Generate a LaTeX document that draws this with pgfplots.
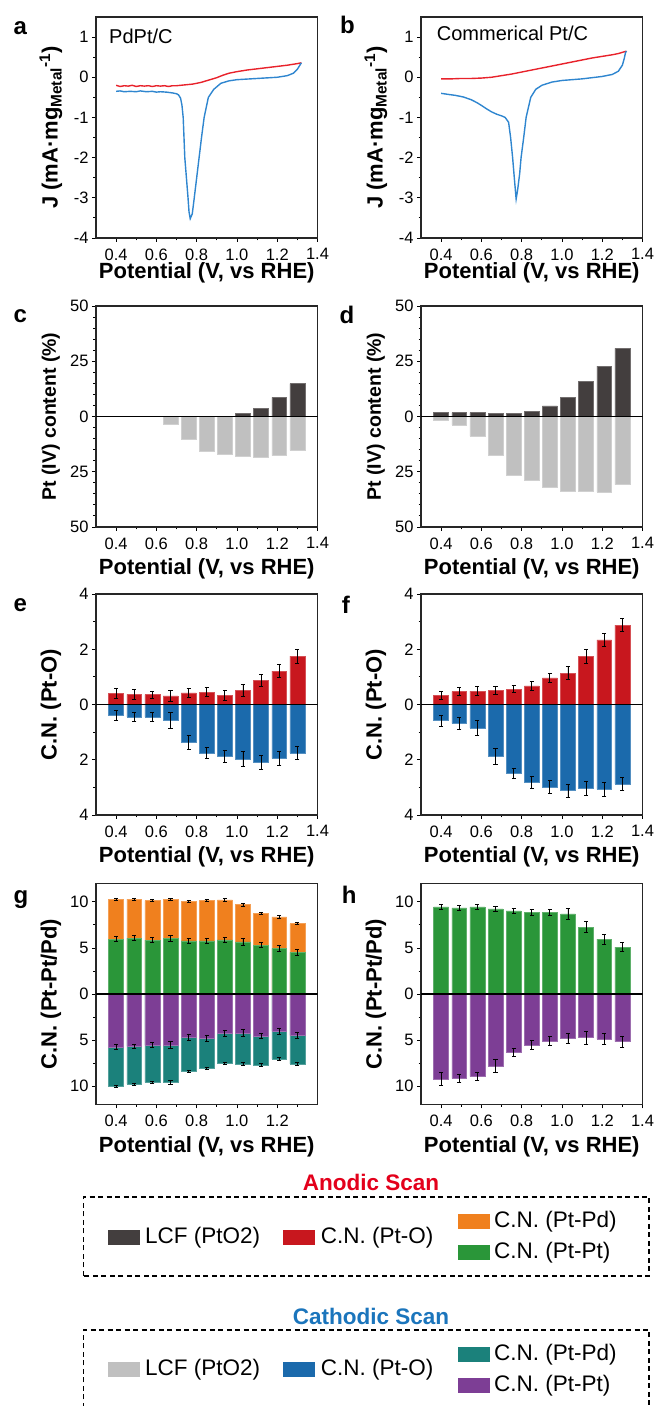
\documentclass[border=0pt]{standalone}
\usepackage{fontspec}
\setmainfont{Liberation Sans}
\usepackage{pgfplots}
\usepackage{pgfplotstable}
\pgfplotsset{compat=1.18}

\definecolor{curvered}{HTML}{E8222B}
\definecolor{curveblue}{HTML}{2F86CF}
\definecolor{anored}{HTML}{C8171E}
\definecolor{catblue}{HTML}{1B6AAC}
\definecolor{lcfdark}{HTML}{433E3E}
\definecolor{lcflight}{HTML}{C0C0C0}
\definecolor{ptpdorange}{HTML}{F0801E}
\definecolor{ptptgreen}{HTML}{2A9639}
\definecolor{ptpdteal}{HTML}{1B817B}
\definecolor{ptptpurple}{HTML}{7D3E95}
\definecolor{titlered}{HTML}{E3001B}
\definecolor{titleblue}{HTML}{1B75BC}

% bar data: x, anodic value, error, cathodic value (negative), error
\pgfplotstableread{
x    r     re    b      be
0.40 0.39  0.18  -0.39  0.17
0.49 0.37  0.18  -0.45  0.16
0.58 0.36  0.13  -0.46  0.17
0.67 0.31  0.19  -0.58  0.30
0.76 0.42  0.17  -1.37  0.24
0.85 0.45  0.16  -1.75  0.21
0.94 0.34  0.18  -1.87  0.21
1.03 0.52  0.22  -1.98  0.27
1.12 0.87  0.23  -2.10  0.25
1.21 1.21  0.23  -1.95  0.24
1.30 1.75  0.25  -1.76  0.23
}\ptoPdPt
\pgfplotstableread{
x    r     re    b      be
0.40 0.32  0.15  -0.58  0.20
0.49 0.47  0.16  -0.68  0.22
0.58 0.48  0.16  -0.85  0.26
0.67 0.52  0.14  -1.87  0.29
0.76 0.56  0.12  -2.48  0.18
0.85 0.67  0.16  -2.81  0.22
0.94 0.96  0.17  -2.98  0.23
1.03 1.14  0.25  -3.12  0.24
1.12 1.75  0.25  -3.04  0.27
1.21 2.34  0.24  -3.07  0.25
1.30 2.87  0.24  -2.87  0.24
}\ptoPt
% panel g: anodic total (Pt-Pd on top of Pt-Pt), anodic Pt-Pt, cathodic total, cathodic Pt-Pt
\pgfplotstableread{
x    tot    tote  pt    pte   ctot    ctote  cpt    cpte
0.40 10.25  0.13  5.96  0.27  -10.04  0.12   -5.74  0.25
0.49 10.29  0.13  6.06  0.27  -9.78   0.12   -5.67  0.22
0.58 10.14  0.13  5.85  0.25  -9.60   0.12   -5.56  0.25
0.67 10.25  0.13  6.03  0.30  -9.60   0.20   -5.52  0.40
0.76 10.04  0.13  5.78  0.27  -8.41   0.12   -4.69  0.35
0.85 10.14  0.13  5.78  0.27  -8.09   0.12   -4.84  0.30
0.94 10.22  0.13  5.88  0.27  -7.51   0.12   -4.26  0.35
1.03 9.71   0.15  5.67  0.35  -7.58   0.15   -4.26  0.40
1.12 8.74   0.15  5.31  0.30  -7.69   0.15   -4.55  0.30
1.21 8.38   0.15  4.95  0.30  -7.08   0.15   -4.04  0.35
1.30 7.65   0.13  4.51  0.30  -7.58   0.15   -4.48  0.30
}\ptptPdPt
\pgfplotstableread{
x    pt    pte   cpt    cpte
0.40 9.45  0.30  -9.27  0.70
0.49 9.35  0.30  -9.16  0.40
0.58 9.45  0.30  -8.95  0.40
0.67 9.24  0.28  -7.82  0.70
0.76 9.02  0.27  -6.36  0.45
0.85 8.87  0.30  -5.56  0.50
0.94 8.84  0.30  -5.09  0.50
1.03 8.69  0.60  -4.80  0.55
1.12 7.24  0.60  -4.73  0.70
1.21 5.96  0.55  -4.91  0.60
1.30 5.09  0.50  -5.16  0.60
}\ptptPt

\pgfplotsset{
  panel/.style={
    scale only axis, width=221.5pt, height=221pt,
    xmin=0.3, xmax=1.4,
    xtick={0.4,0.6,0.8,1.0,1.2,1.4}, xticklabels={0.4,0.6,0.8,1.0,1.2,1.4},
    minor x tick num=1, minor y tick num=1,
    tick align=outside, xtick pos=left, ytick pos=left,
    axis line style={line width=1.1pt, black!85},
    tick style={black, line width=0.9pt},
    major tick length=4pt, minor tick length=2.5pt,
    tick label style={font=\fontsize{16.5}{18}\selectfont},
    xticklabel style={yshift=-3pt},
    label style={font=\bfseries\fontsize{22}{24}\selectfont},
    xlabel={Potential (V, vs RHE)},
    xlabel style={at={(axis description cs:0.5,-0.19)}, anchor=center},
    ylabel style={at={(axis description cs:-0.204,0.5)}, anchor=center},
  },
  cvpanel/.style={panel, ymin=-4, ymax=1.5, ytick={-4,-3,-2,-1,0,1},
    yticklabels={-4,-3,-2,-1,0,1},
    ylabel={J (mA·mg\textsubscript{Metal}\textsuperscript{-1})},
    xlabel style={at={(axis description cs:0.5,-0.158)}}},
  lcfpanel/.style={panel, ybar, bar width=0.074, ymin=-50, ymax=50,
    ytick={-50,-25,0,25,50}, yticklabels={50,25,0,25,50}, minor y tick num=4,
    ylabel={Pt (IV) content (\%)},
    ylabel style={font=\bfseries\fontsize{19.5}{22}\selectfont}},
  ptopanel/.style={panel, ybar, bar width=0.074, ymin=-4, ymax=4,
    ytick={-4,-2,0,2,4}, yticklabels={4,2,0,2,4},
    ylabel={C.N. (Pt-O)}},
  ptptpanel/.style={panel, ybar, bar width=0.074, ymin=-12, ymax=12,
    ytick={-10,-5,0,5,10}, yticklabels={10,5,0,5,10},
    ylabel={C.N. (Pt-Pt/Pd)}},
  bar/.style={fill=#1, draw=#1!75!white, line width=0.5pt, bar shift=0pt},
  ebar/.style={bar=#1, error bars/.cd, y dir=both, y explicit,
    error mark=|,
    error bar style={black, line width=0.9pt},
    error mark options={black, line width=0.9pt, mark size=2.1pt}},
}

\newcommand{\zeroline}{\draw[black, line width=1.4pt] (rel axis cs:0,0.5) -- (rel axis cs:1,0.5);}

\begin{document}
\begin{tikzpicture}[x=1pt,y=1pt]
\useasboundingbox (0,0) rectangle (659,1406);

% ---------- a ----------
\begin{axis}[cvpanel, at={(96pt,1168pt)}, anchor=south west]
\addplot[curvered, line width=1.4pt] coordinates {
 (0.40,-0.20) (0.42,-0.23) (0.44,-0.21) (0.46,-0.22) (0.48,-0.20) (0.50,-0.23)
 (0.52,-0.21) (0.54,-0.22) (0.56,-0.21) (0.58,-0.23) (0.60,-0.21) (0.62,-0.22)
 (0.64,-0.21) (0.66,-0.23) (0.68,-0.21) (0.70,-0.21) (0.72,-0.20) (0.74,-0.19)
 (0.76,-0.18) (0.78,-0.17) (0.80,-0.15) (0.82,-0.13) (0.84,-0.10) (0.86,-0.07)
 (0.88,-0.04) (0.90,-0.01) (0.93,0.05) (0.96,0.10) (1.00,0.14) (1.05,0.18)
 (1.10,0.21) (1.15,0.24) (1.20,0.27) (1.25,0.30) (1.30,0.34) (1.32,0.36)};
\addplot[curveblue, line width=1.4pt] coordinates {
 (1.32,0.36) (1.31,0.28) (1.30,0.20) (1.28,0.10) (1.25,0.04) (1.20,0.00)
 (1.10,-0.03) (1.00,-0.06) (0.96,-0.09) (0.92,-0.15) (0.885,-0.30) (0.858,-0.50)
 (0.837,-1.00) (0.824,-1.50) (0.812,-2.00) (0.800,-2.50) (0.788,-3.00) (0.778,-3.40)
 (0.768,-3.52) (0.762,-3.35) (0.757,-3.00) (0.749,-2.50) (0.741,-2.00) (0.737,-1.50)
 (0.733,-1.00) (0.727,-0.70) (0.720,-0.52) (0.710,-0.44) (0.70,-0.41) (0.68,-0.39)
 (0.65,-0.37) (0.62,-0.36) (0.60,-0.37) (0.58,-0.35) (0.55,-0.36) (0.52,-0.34)
 (0.50,-0.36) (0.47,-0.35) (0.44,-0.36) (0.42,-0.34) (0.40,-0.35)};
\end{axis}
\node[anchor=base west, font=\fontsize{20}{22}\selectfont, inner sep=0] at (109,1362.7) {PdPt/C};

% ---------- b ----------
\begin{axis}[cvpanel, at={(421pt,1168pt)}, anchor=south west]
\addplot[curvered, line width=1.4pt] coordinates {
 (0.40,-0.04) (0.45,-0.04) (0.50,-0.03) (0.55,-0.03) (0.60,-0.02) (0.65,0.00)
 (0.70,0.04) (0.75,0.08) (0.80,0.13) (0.85,0.18) (0.90,0.23) (0.95,0.28)
 (1.00,0.33) (1.05,0.38) (1.10,0.43) (1.15,0.48) (1.20,0.52) (1.25,0.56)
 (1.28,0.59) (1.32,0.65)};
\addplot[curveblue, line width=1.4pt] coordinates {
 (1.32,0.65) (1.315,0.60) (1.31,0.48) (1.30,0.30) (1.28,0.15) (1.25,0.07)
 (1.20,0.02) (1.10,-0.04) (1.00,-0.08) (0.95,-0.12) (0.90,-0.20) (0.87,-0.30)
 (0.845,-0.50) (0.822,-1.00) (0.810,-1.50) (0.797,-2.00) (0.790,-2.40) (0.780,-2.80)
 (0.7725,-3.03) (0.765,-2.60) (0.755,-2.00) (0.745,-1.50) (0.735,-1.12) (0.718,-1.00)
 (0.70,-0.96) (0.676,-0.92) (0.65,-0.86) (0.627,-0.79) (0.60,-0.70) (0.577,-0.63)
 (0.55,-0.56) (0.51,-0.49) (0.47,-0.45) (0.44,-0.43) (0.40,-0.40)};
\end{axis}
\node[anchor=base west, font=\fontsize{20}{22}\selectfont, inner sep=0] at (436.7,1365.7) {Commerical Pt/C};

% ---------- c ----------
\begin{axis}[lcfpanel, at={(96pt,879pt)}, anchor=south west]
\addplot[bar=lcfdark] coordinates {(1.03,1.5) (1.12,3.8) (1.21,8.6) (1.30,14.9)};
\addplot[bar=lcflight] coordinates {(0.67,-3.6) (0.76,-10.4) (0.85,-15.6) (0.94,-17.1)
 (1.03,-17.8) (1.12,-18.4) (1.21,-17.7) (1.30,-15.3)};
\zeroline
\end{axis}

% ---------- d ----------
\begin{axis}[lcfpanel, at={(421pt,879pt)}, anchor=south west]
\addplot[bar=lcfdark] coordinates {(0.40,1.8) (0.49,1.8) (0.58,1.7) (0.67,1.4) (0.76,1.4)
 (0.85,2.2) (0.94,4.8) (1.03,8.7) (1.12,15.8) (1.21,22.8) (1.30,30.8)};
\addplot[bar=lcflight] coordinates {(0.40,-1.8) (0.49,-3.8) (0.58,-8.9) (0.67,-17.4)
 (0.76,-26.4) (0.85,-28.8) (0.94,-32.0) (1.03,-33.8) (1.12,-33.8) (1.21,-34.2) (1.30,-30.8)};
\zeroline
\end{axis}

% ---------- e ----------
\begin{axis}[ptopanel, at={(96pt,591pt)}, anchor=south west]
\addplot[ebar=anored] table[x=x, y=r, y error=re] {\ptoPdPt};
\addplot[ebar=catblue] table[x=x, y=b, y error=be] {\ptoPdPt};
\zeroline
\end{axis}

% ---------- f ----------
\begin{axis}[ptopanel, at={(421pt,591pt)}, anchor=south west]
\addplot[ebar=anored] table[x=x, y=r, y error=re] {\ptoPt};
\addplot[ebar=catblue] table[x=x, y=b, y error=be] {\ptoPt};
\zeroline
\end{axis}

% ---------- g ----------
\begin{axis}[ptptpanel, at={(96pt,301.5pt)}, anchor=south west,
  xtick={0.4,0.6,0.8,1.0,1.2}, xticklabels={0.4,0.6,0.8,1.0,1.2},
  minor xtick={0.5,0.7,0.9,1.1,1.3}]
\addplot[ebar=ptpdorange] table[x=x, y=tot, y error=tote] {\ptptPdPt};
\addplot[ebar=ptptgreen] table[x=x, y=pt, y error=pte] {\ptptPdPt};
\addplot[ebar=ptpdteal] table[x=x, y=ctot, y error=ctote] {\ptptPdPt};
\addplot[ebar=ptptpurple] table[x=x, y=cpt, y error=cpte] {\ptptPdPt};
\zeroline
\end{axis}

% ---------- h ----------
\begin{axis}[ptptpanel, at={(421pt,301.5pt)}, anchor=south west]
\addplot[ebar=ptptgreen] table[x=x, y=pt, y error=pte] {\ptptPt};
\addplot[ebar=ptptpurple] table[x=x, y=cpt, y error=cpte] {\ptptPt};
\zeroline
\end{axis}

% panel letters
\begin{scope}[every node/.style={anchor=base west, inner sep=0, font=\bfseries\fontsize{24}{26}\selectfont}]
\node at (13.3,1371.7) {a};
\node at (340,1372.7) {b};
\node at (13.3,1083.7) {c};
\node at (339.3,1082.7) {d};
\node at (13.3,794.3) {e};
\node at (341.7,792.7) {f};
\node at (13.3,502) {g};
\node at (341.7,502.7) {h};
\end{scope}

% legend boxes
\begin{scope}[every node/.style={inner sep=0}]
\node[font=\bfseries\fontsize{22.5}{24}\selectfont, text=titlered] at (371,224) {Anodic Scan};
\draw[black, line width=1.1pt, dash pattern=on 5pt off 3.5pt] (83.5,130) rectangle (649,209);
\fill[lcfdark] (108,161) rectangle (140,176);
\node[anchor=west, font=\fontsize{22.5}{24}\selectfont] at (145,168.5) {LCF (PtO2)};
\fill[anored] (283,161) rectangle (315,176);
\node[anchor=west, font=\fontsize{22.5}{24}\selectfont] at (320.7,168.5) {C.N. (Pt-O)};
\fill[ptpdorange] (458,177) rectangle (490,192);
\node[anchor=west, font=\fontsize{22.5}{24}\selectfont] at (494,184.5) {C.N. (Pt-Pd)};
\fill[ptptgreen] (458,146) rectangle (490,161);
\node[anchor=west, font=\fontsize{22.5}{24}\selectfont] at (494,153.5) {C.N. (Pt-Pt)};

\node[font=\bfseries\fontsize{22.5}{24}\selectfont, text=titleblue] at (371,90) {Cathodic Scan};
\draw[black, line width=1.1pt, dash pattern=on 5pt off 3.5pt] (83.5,-2) -- (83.5,76) -- (649,76) -- (649,-2);
\fill[lcflight] (108,28.5) rectangle (140,43.5);
\node[anchor=west, font=\fontsize{22.5}{24}\selectfont] at (145,36) {LCF (PtO2)};
\fill[catblue] (283,28.5) rectangle (315,43.5);
\node[anchor=west, font=\fontsize{22.5}{24}\selectfont] at (320.7,36) {C.N. (Pt-O)};
\fill[ptpdteal] (458,43.5) rectangle (490,58.5);
\node[anchor=west, font=\fontsize{22.5}{24}\selectfont] at (494,51) {C.N. (Pt-Pd)};
\fill[ptptpurple] (458,13) rectangle (490,28);
\node[anchor=west, font=\fontsize{22.5}{24}\selectfont] at (494,20.5) {C.N. (Pt-Pt)};
\end{scope}
\end{tikzpicture}
\end{document}
